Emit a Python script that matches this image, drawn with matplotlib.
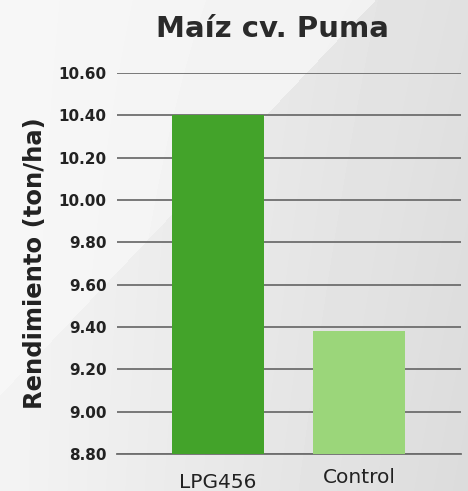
import numpy as np
import matplotlib.pyplot as plt
import matplotlib.transforms as mtransforms

# data
categorias = ['LPG456', 'Control']
rendimiento = [10.40, 9.38]
colores = ['#43a32a', '#9bd67a']
yticks = [8.80, 9.00, 9.20, 9.40, 9.60, 9.80, 10.00, 10.20, 10.40, 10.60]

plt.rcParams['font.family'] = ['DejaVu Sans']

fig = plt.figure(figsize=(4.68, 4.91), dpi=100)

# fondo gris con degradado diagonal
bg = fig.add_axes([0, 0, 1, 1], zorder=-10)
W, H = 468, 491
xx, yy = np.meshgrid(np.arange(W), np.arange(H))
g = 0.955 - 0.075 * (xx / W)
light = (xx + yy * 0.95) < 375
g = np.where(light, 0.968 - 0.025 * (xx / W), g)
g = g - 0.02 * (yy / H) * (xx / W)
bg.imshow(g, cmap='gray', vmin=0, vmax=1, aspect='auto', interpolation='bilinear')
bg.axis('off')

ax = fig.add_axes([0.25, 0.0754, 0.735, 0.776])
ax.patch.set_alpha(0)

x = np.arange(len(categorias))
ax.bar(x, rendimiento, width=0.65, color=colores, zorder=3)
ax.set_ylim(8.80, 10.60)
ax.set_xlim(-0.716, 1.723)
ax.set_yticks(yticks)
ax.set_yticklabels(['%.2f' % v for v in yticks], fontsize=11, fontweight='bold', color='#222222')
ax.set_xticks(x)
ax.set_xticklabels(categorias, fontsize=14.5, color='#222222')
ax.tick_params(axis='both', length=0)
ax.tick_params(axis='y', pad=7.5)
ax.tick_params(axis='x', pad=10)
# LPG456 algo más abajo que Control
lab = ax.get_xticklabels()[0]
lab.set_transform(lab.get_transform() + mtransforms.ScaledTranslation(0, -5 / 100, fig.dpi_scale_trans))

ax.grid(axis='y', color='#6e6e6e', linewidth=1.3, zorder=1)
for s in ['top', 'right', 'left']:
    ax.spines[s].set_visible(False)
ax.spines['bottom'].set_color('#6e6e6e')
ax.spines['bottom'].set_linewidth(1.3)

ax.set_ylabel('Rendimiento (ton/ha)', fontsize=17.5, fontweight='bold', color='#222222', labelpad=8)
fig.text(0.583, 0.9246, 'Maíz cv. Puma', ha='center', va='baseline', fontsize=21, fontweight='bold', color='#2a2a2a')

fig.savefig('out.png', dpi=100)
